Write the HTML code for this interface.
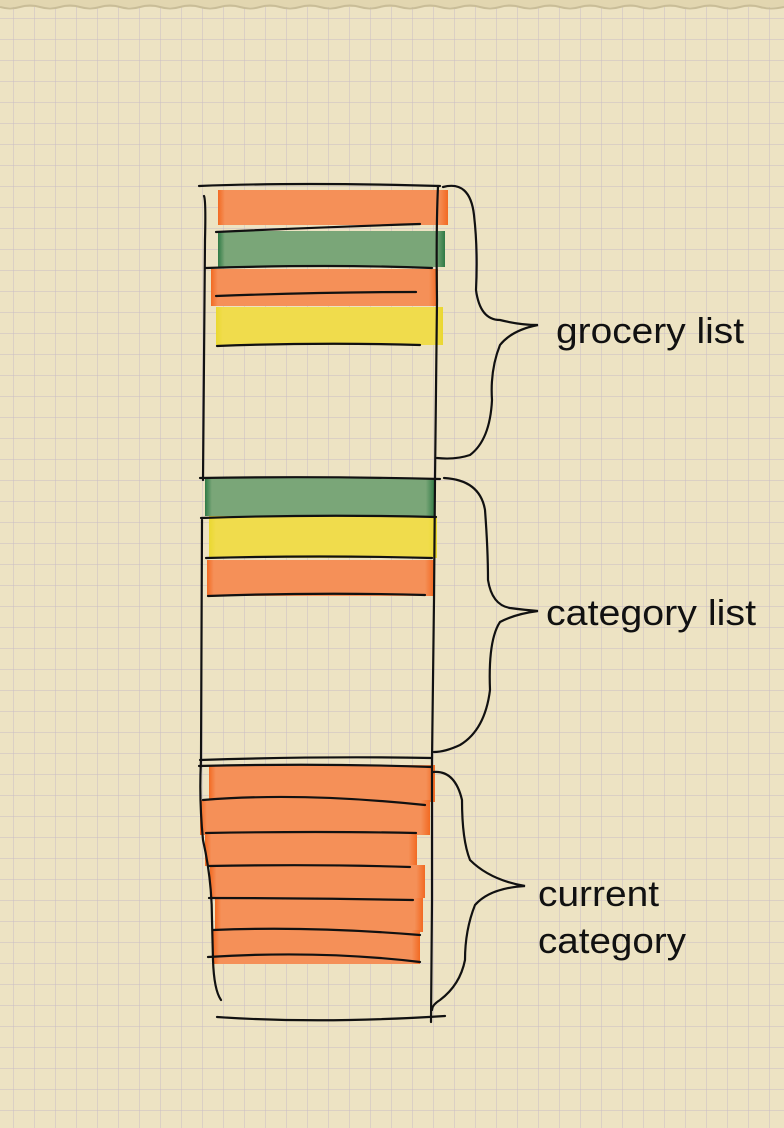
<!DOCTYPE html>
<html><head><meta charset="utf-8"><style>
html,body{margin:0;padding:0;}
body{width:784px;height:1128px;overflow:hidden;background:#ede3c3;}
svg{display:block}
text{font-family:"Liberation Sans",sans-serif;font-size:36px;fill:#111;}
</style></head><body>
<svg width="784" height="1128" viewBox="0 0 784 1128" xmlns="http://www.w3.org/2000/svg">
<defs>
<pattern id="g" x="13" y="18" width="21" height="21" patternUnits="userSpaceOnUse">
<path d="M0 0V21M0 0H21" stroke="#c9bcc6" stroke-width="1" fill="none"/>
</pattern>
<linearGradient id="or" x1="0" x2="1"><stop offset="0" stop-color="#f26a22"/><stop offset="0.03" stop-color="#f59058"/><stop offset="0.96" stop-color="#f59058"/><stop offset="1" stop-color="#f26a22"/></linearGradient>
<linearGradient id="gr" x1="0" x2="1"><stop offset="0" stop-color="#2f7a45"/><stop offset="0.03" stop-color="#7aa678"/><stop offset="0.96" stop-color="#7aa678"/><stop offset="1" stop-color="#2f7a45"/></linearGradient>
<linearGradient id="ye" x1="0" x2="1"><stop offset="0" stop-color="#ead830"/><stop offset="0.03" stop-color="#f0dc4c"/><stop offset="0.96" stop-color="#f0dc4c"/><stop offset="1" stop-color="#ead830"/></linearGradient>
</defs>
<rect width="784" height="1128" fill="url(#g)"/>
<rect width="784" height="7" fill="#e2d6b0"/>
<path d="M0 7 Q10 10 20 7 T40 7 T60 7 T80 7 T100 7 T120 7 T140 7 T160 7 T180 7 T200 7 T220 7 T240 7 T260 7 T280 7 T300 7 T320 7 T340 7 T360 7 T380 7 T400 7 T420 7 T440 7 T460 7 T480 7 T500 7 T520 7 T540 7 T560 7 T580 7 T600 7 T620 7 T640 7 T660 7 T680 7 T700 7 T720 7 T740 7 T760 7 T784 7" stroke="#c9bd98" stroke-width="2" fill="none"/>

<rect x="218" y="190" width="230" height="35" fill="url(#or)"/>
<rect x="218" y="231" width="227" height="36" fill="url(#gr)"/>
<rect x="211" y="269" width="227" height="37" fill="url(#or)"/>
<rect x="216" y="307" width="227" height="38" fill="url(#ye)"/>

<rect x="205" y="478" width="230" height="38" fill="url(#gr)"/>
<rect x="209" y="516" width="228" height="42" fill="url(#ye)"/>
<rect x="207" y="560" width="227" height="36" fill="url(#or)"/>

<rect x="209" y="765" width="226" height="37" fill="url(#or)"/>
<rect x="200" y="800" width="230" height="35" fill="url(#or)"/>
<rect x="205" y="833" width="212" height="33" fill="url(#or)"/>
<rect x="210" y="865" width="215" height="33" fill="url(#or)"/>
<rect x="215" y="898" width="208" height="34" fill="url(#or)"/>
<rect x="213" y="930" width="207" height="34" fill="url(#or)"/>

<g stroke="#111" stroke-width="2.2" fill="none" stroke-linecap="round">
<path d="M199 186 Q300 182 440 186"/>
<path d="M204 196 Q206 200 205 240 L203 480"/>
<path d="M202 520 L201 760 Q199 800 203 840 Q212 880 212 920 L213 960 Q214 990 221 1000"/>
<path d="M438 186 Q436 230 437 300 L435 480 L434 600 L432 760 L432 900 L431 1022"/>
<path d="M216 232 Q300 228 420 224"/>
<path d="M206 268 Q330 264 432 268"/>
<path d="M216 296 Q320 292 416 292"/>
<path d="M217 346 Q320 342 420 345"/>
<path d="M200 478 Q320 476 440 479"/>
<path d="M201 518 Q320 514 436 517"/>
<path d="M206 558 Q320 555 432 558"/>
<path d="M208 596 Q320 592 425 595"/>
<path d="M200 760 Q320 756 432 758"/>
<path d="M199 766 Q320 763 432 767"/>
<path d="M203 800 Q300 792 425 805"/>
<path d="M206 833 Q320 831 416 833"/>
<path d="M209 866 Q320 864 410 867"/>
<path d="M209 898 Q300 898 413 900"/>
<path d="M213 930 Q310 926 420 935"/>
<path d="M208 957 Q320 950 420 962"/>
<path d="M217 1017 Q320 1024 445 1016"/>
<path d="M443 187 Q470 180 474 215 Q478 250 476 290 Q480 320 500 320 Q520 325 538 325 Q512 330 500 345 Q490 370 492 400 Q490 440 470 455 Q455 460 437 458"/>
<path d="M444 478 Q480 480 485 510 Q488 550 488 580 Q492 605 510 608 Q525 610 538 611 Q515 614 500 622 Q488 640 490 690 Q485 730 460 745 Q445 752 434 752"/>
<path d="M433 772 Q455 770 462 800 Q462 840 470 860 Q490 880 525 886 Q490 888 475 905 Q465 930 465 960 Q460 985 440 1000 Q432 1005 432 1010"/>
</g>

<text x="556" y="343" textLength="188" lengthAdjust="spacingAndGlyphs">grocery list</text>
<text x="546" y="625" textLength="210" lengthAdjust="spacingAndGlyphs">category list</text>
<text x="538" y="906" textLength="121" lengthAdjust="spacingAndGlyphs">current</text>
<text x="538" y="953" textLength="148" lengthAdjust="spacingAndGlyphs">category</text>
</svg>
</body></html>
